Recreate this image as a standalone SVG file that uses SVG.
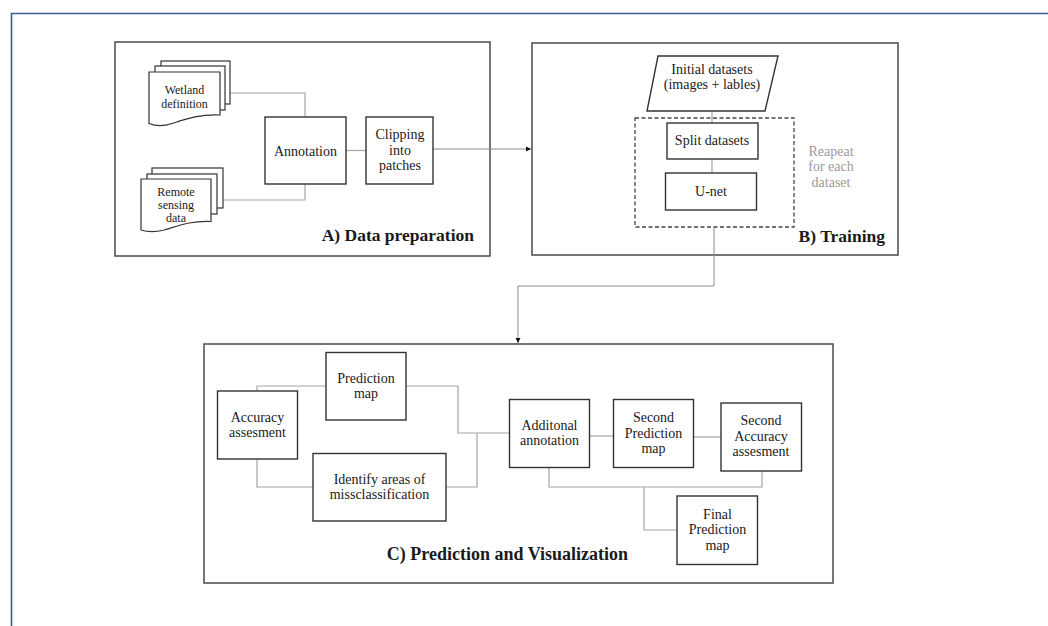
<svg xmlns="http://www.w3.org/2000/svg" width="1048" height="626" viewBox="0 0 1048 626">
<style>
text{font-family:"Liberation Serif","DejaVu Serif",serif;fill:#1a1a1a;}
.lbl{font-size:14px;text-anchor:middle;}
.doc{font-size:12px;text-anchor:middle;}
.title{font-size:17.5px;font-weight:bold;text-anchor:end;}
.gray{font-size:14px;text-anchor:middle;fill:#9a9a9a;}
.panel{fill:#fff;stroke:#4a4a4a;stroke-width:1.5;}
.box{fill:#fff;stroke:#333;stroke-width:1.4;}
.page{fill:#fff;stroke:#333;stroke-width:1.2;}
.conn{fill:none;stroke:#a6a6a6;stroke-width:1.2;}
.arr{fill:none;stroke:#8c8c8c;stroke-width:1;}
.dash{fill:none;stroke:#444;stroke-width:1.3;stroke-dasharray:4,2.5;}
</style>
<defs>
<marker id="ah" markerWidth="6" markerHeight="6" refX="5" refY="3" orient="auto" markerUnits="userSpaceOnUse">
<path d="M0,0.5 L5,3 L0,5.5 Z" fill="#111"/>
</marker>
</defs>
<rect width="1048" height="626" fill="#fff"/>
<path d="M11.5,626 V13.5 H1048" fill="none" stroke="#3c5a99" stroke-width="1.6"/>

<g id="panelA"><rect class="panel" x="115" y="42" width="375" height="214"/><text class="title" x="474" y="241">A) Data preparation</text></g>
<g id="panelB"><rect class="panel" x="532" y="43" width="366" height="212"/><text class="title" x="885" y="242">B) Training</text></g>
<g id="panelC"><rect class="panel" x="204" y="344" width="629" height="239"/><text class="title" x="628" y="560" style="font-size:18px">C) Prediction and Visualization</text></g>

<g id="connectors">
<path class="conn" d="M230,93 H305 V117"/>
<path class="conn" d="M223,200 H305 V184"/>
<path class="conn" d="M346,150.5 H366"/>
<path class="arr" d="M433,149 H531" marker-end="url(#ah)"/>
<path class="conn" d="M712,97 V123"/>
<path class="conn" d="M712,159 V173"/>
<path class="arr" d="M714,227 V286 H518 V343" marker-end="url(#ah)"/>
<path class="conn" d="M257,391 V386 H326"/>
<path class="conn" d="M406,386 H458 V433 H509"/>
<path class="conn" d="M257,459 V487 H313"/>
<path class="conn" d="M446,487 H477 V433"/>
<path class="conn" d="M590,436 H613"/>
<path class="conn" d="M694,437 H721"/>
<path class="conn" d="M549,467 V487 H762 V471"/>
<path class="conn" d="M644,487 V530 H677"/>
</g>

<g id="wetland">
<rect class="page" x="161" y="61" width="69" height="43"/>
<rect class="page" x="155" y="66" width="70" height="44"/>
<path class="page" d="M149,72 H220 V115 C200,114 186,119 172,123.5 C162,127 154,125.5 149,123.5 Z"/>
<text class="doc" x="184.5" y="94">Wetland</text>
<text class="doc" x="184.5" y="108">definition</text>
</g>
<g id="remote">
<rect class="page" x="152" y="168" width="71" height="40"/>
<rect class="page" x="147" y="174" width="70" height="40"/>
<path class="page" d="M141,179 H211 V221.5 C191,220.5 178,226 164,230 C154,232.5 146,231.5 141,230 Z"/>
<text class="doc" x="176" y="196">Remote</text>
<text class="doc" x="176" y="209">sensing</text>
<text class="doc" x="176" y="222">data</text>
</g>
<g id="annotation"><rect class="box" x="265" y="117" width="81" height="67"/><text class="lbl" x="305.5" y="156">Annotation</text></g>
<g id="clipping"><rect class="box" x="366" y="117" width="67" height="67"/><text class="lbl" x="400" y="139">Clipping</text><text class="lbl" x="400" y="155">into</text><text class="lbl" x="400" y="170">patches</text></g>

<g id="initial"><path class="box" d="M658,56 H778 L765,111 H647 Z"/><text class="lbl" x="712" y="74">Initial datasets</text><text class="lbl" x="712" y="89">(images + lables)</text></g>
<g id="repeat"><rect class="dash" x="635" y="118" width="159" height="109"/><text class="gray" x="831" y="156">Reapeat</text><text class="gray" x="831" y="171">for each</text><text class="gray" x="831" y="187">dataset</text></g>
<g id="split"><rect class="box" x="667" y="123" width="91" height="36"/><text class="lbl" x="712" y="145">Split datasets</text></g>
<g id="unet"><rect class="box" x="665.5" y="173" width="91" height="37"/><text class="lbl" x="711" y="195.5">U-net</text></g>

<g id="accuracy"><rect class="box" x="217.5" y="391" width="80" height="68"/><text class="lbl" x="257.5" y="422">Accuracy</text><text class="lbl" x="257.5" y="437">assesment</text></g>
<g id="prediction"><rect class="box" x="326" y="352.5" width="80" height="67.5"/><text class="lbl" x="366" y="383">Prediction</text><text class="lbl" x="366" y="398">map</text></g>
<g id="identify"><rect class="box" x="313" y="453.5" width="133" height="67.5"/><text class="lbl" x="379.5" y="483.5">Identify areas of</text><text class="lbl" x="379.5" y="498.5">missclassification</text></g>
<g id="additional"><rect class="box" x="509.5" y="399.5" width="80" height="68"/><text class="lbl" x="549.5" y="429.5">Additonal</text><text class="lbl" x="549.5" y="445">annotation</text></g>
<g id="second-pred"><rect class="box" x="613.5" y="399.5" width="80" height="68"/><text class="lbl" x="653.5" y="422">Second</text><text class="lbl" x="653.5" y="437.5">Prediction</text><text class="lbl" x="653.5" y="453">map</text></g>
<g id="second-acc"><rect class="box" x="721" y="403" width="80.5" height="68"/><text class="lbl" x="761" y="425">Second</text><text class="lbl" x="761" y="441">Accuracy</text><text class="lbl" x="761" y="456">assesment</text></g>
<g id="final"><rect class="box" x="677" y="496" width="80.5" height="68.5"/><text class="lbl" x="717.5" y="518.5">Final</text><text class="lbl" x="717.5" y="534">Prediction</text><text class="lbl" x="717.5" y="549.5">map</text></g>
</svg>
